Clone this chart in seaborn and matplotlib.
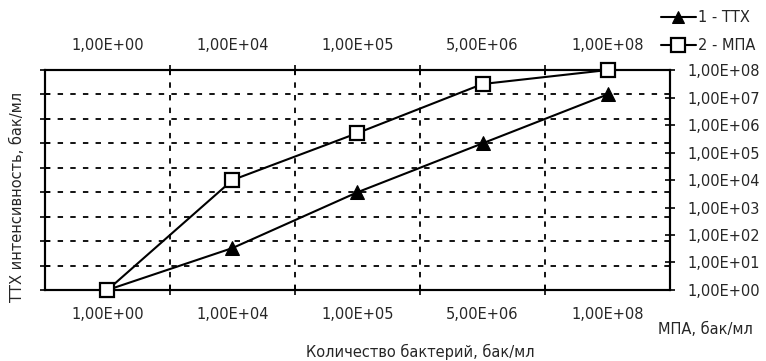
import numpy as np
import pandas as pd
import matplotlib
matplotlib.use("Agg")
import matplotlib.pyplot as plt
import matplotlib.ticker as mticker
import seaborn as sns

# bacteria count categories (shown on bottom and top axes)
categories = ["1,00E+00", "1,00E+04", "1,00E+05", "5,00E+06", "1,00E+08"]
# series 1 - TTX intensity (left axis, hidden labels, 1..1e9)
ttx = [1, 52, 1e4, 1e6, 1e8]
# series 2 - MPA (right axis, 1..1e8)
mpa = [1, 1e4, 5.1e5, 3.1e7, 1e8]
right_ticks = [10.0 ** k for k in range(0, 9)]
left_ticks = [10.0 ** k for k in range(0, 10)]

sns.set_style("white")
plt.rcParams["font.family"] = ["DejaVu Sans"]
plt.rcParams["font.size"] = 10.5

df = pd.DataFrame({"x": np.arange(len(categories)), "ttx": ttx, "mpa": mpa})

fig = plt.figure(figsize=(7.66, 3.61), dpi=100)
ax = fig.add_axes([0.0587, 0.1967, 0.8160, 0.6093])
ax.set_yscale("log")
ax2 = ax.twinx()
ax2.set_yscale("log")

sns.lineplot(data=df, x="x", y="ttx", ax=ax, color="black", lw=1.5,
             marker="^", markersize=9.5, markerfacecolor="black",
             markeredgecolor="black", label="1 - ТТХ", legend=False,
             clip_on=False, zorder=5)
sns.lineplot(data=df, x="x", y="mpa", ax=ax2, color="black", lw=1.5,
             marker="s", markersize=10.5, markerfacecolor="white",
             markeredgecolor="black", markeredgewidth=1.6,
             label="2 - МПА", legend=False, clip_on=False, zorder=5)

ax.set_xlim(-0.5, len(categories) - 0.5)
ax.set_ylim(1, 1e9)
ax2.set_ylim(1, 1e8)

# x: tick marks / grid between categories, labels at category centres
ax.xaxis.set_major_locator(mticker.FixedLocator(np.arange(0.5, len(categories) - 1, 1.0)))
ax.xaxis.set_major_formatter(mticker.NullFormatter())
ax.xaxis.set_minor_locator(mticker.FixedLocator(np.arange(len(categories))))
ax.xaxis.set_minor_formatter(mticker.FixedFormatter(categories))
ax.tick_params(axis="x", which="major", direction="inout", length=7, width=1.2,
               top=True, bottom=True, color="black")
ax.tick_params(axis="x", which="minor", length=0, top=True, bottom=True,
               labeltop=True, labelbottom=True, pad=12, labelsize=10.5)

ax.yaxis.set_major_locator(mticker.FixedLocator(left_ticks))
ax.yaxis.set_major_formatter(mticker.NullFormatter())
ax.yaxis.set_minor_locator(mticker.NullLocator())
ax.tick_params(axis="y", which="major", direction="inout", length=7, width=1.2,
               left=True, color="black")

ax2.yaxis.set_major_locator(mticker.FixedLocator(right_ticks))
ax2.yaxis.set_major_formatter(
    mticker.FuncFormatter(lambda v, p: f"{v:.2E}".replace(".", ",")))
ax2.yaxis.set_minor_locator(mticker.NullLocator())
ax2.tick_params(axis="y", which="major", direction="inout", length=7, width=1.2,
                right=True, color="black", pad=9, labelsize=10.5)

ax.grid(True, which="major", axis="both", color="black",
        linestyle=(0, (3, 4)), lw=1.3)
ax.set_xlabel("")
ax.set_ylabel("")
ax2.set_ylabel("")

for a in (ax, ax2):
    for s in a.spines.values():
        s.set_color("black")
        s.set_linewidth(1.5)

fig.text(420 / 766, 1 - 352 / 361, "Количество бактерий, бак/мл",
         ha="center", va="center", fontsize=10.5)
fig.text(705 / 766, 1 - 329 / 361, "МПА, бак/мл",
         ha="center", va="center", fontsize=10.5)
fig.text(17 / 766, 1 - 197 / 361, "ТТХ интенсивность, бак/мл",
         ha="center", va="center", rotation=90, fontsize=10.5)

h1, l1 = ax.get_legend_handles_labels()
h2, l2 = ax2.get_legend_handles_labels()
fig.legend(h1 + h2, l1 + l2, loc="upper right", bbox_to_anchor=(1.0, 1.0),
           frameon=False, handlelength=2.4, handletextpad=0.2,
           labelspacing=0.9, borderaxespad=0.3, fontsize=10.5,
           markerscale=0.9)

fig.savefig("out.png", dpi=100)
plt.close(fig)
